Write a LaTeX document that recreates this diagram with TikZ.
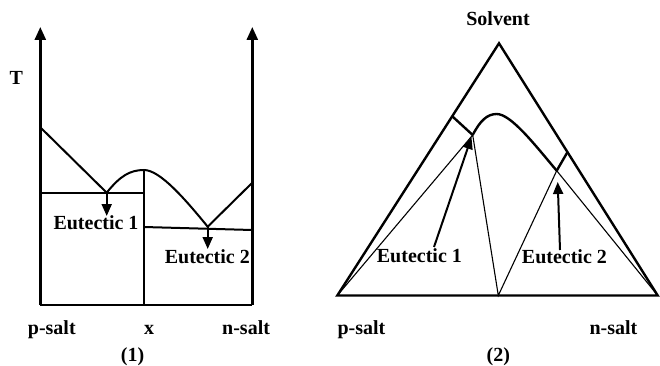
\documentclass[tikz,border=0pt]{standalone}
\usepackage{fontspec}
\setmainfont{Liberation Serif}
\usetikzlibrary{arrows.meta}
\begin{document}
\begin{tikzpicture}[x=1pt,y=-1pt,
  lbl/.style={font=\fontsize{20}{22}\selectfont\bfseries, inner sep=0pt},
  axis/.style={line width=2.6pt, -{Triangle[width=11pt,length=13pt]}},
  frame/.style={line width=2.4pt},
  thickc/.style={line width=2.4pt},
  thinl/.style={line width=1.1pt},
  mid/.style={line width=2pt},
  pointer/.style={line width=2pt, -{Triangle[width=10pt,length=12pt]}},
  every node/.style={lbl}]
\useasboundingbox (0,0) rectangle (660,366);
% ---------- diagram (1) ----------
\coordinate (O) at (40.3,305);
\coordinate (R) at (252.3,305);
\coordinate (Ltop) at (40.3,27);
\coordinate (Rtop) at (252.3,27);
\coordinate (M) at (144,305);
\coordinate (Mtop) at (144,170);
\coordinate (LS) at (40.3,127.3);
\coordinate (E1) at (106.7,192.7);
\coordinate (E2) at (207.7,226.7);
\coordinate (RS) at (252.3,182.7);
\coordinate (H1a) at (40.3,193.3);
\coordinate (H1b) at (144,193.3);
\coordinate (H2a) at (144,227);
\coordinate (H2b) at (252.3,230);
\coordinate (A1) at (106.7,216);
\coordinate (A2) at (207.7,249);
\draw[axis] (O) -- (Ltop);
\draw[axis] (R) -- (Rtop);
\draw[frame] (O) -- (R);
\draw[mid] (M) -- (Mtop);
\draw[mid] (H1a) -- (H1b);
\draw[mid] (H2a) -- (H2b);
\draw[mid] (LS) -- (E1) .. controls (120,176) and (130,170) .. (Mtop)
  .. controls (160,170) and (185,199) .. (E2) -- (RS);
\draw[pointer] (E1) -- (A1);
\draw[pointer] (E2) -- (A2);
\node[anchor=base west] (T) at (9.3,85) {T};
\node[anchor=base west] (eu1) at (53.3,229) {Eutectic 1};
\node[anchor=base east] (eu2) at (250,263.3) {Eutectic 2};
\node[anchor=base west] (ps1) at (27.7,334) {p-salt};
\node[anchor=base] (xx) at (149,334) {x};
\node[anchor=base west] (ns1) at (222,334) {n-salt};
\node[anchor=base] (c1) at (132.5,361) {(1)};
% ---------- diagram (2) ----------
\coordinate (P) at (337.3,295.5);
\coordinate (N) at (657.7,295.5);
\coordinate (S) at (499,43.3);
\coordinate (B) at (498.3,295.5);
\coordinate (F1) at (472.7,135);
\coordinate (F2) at (556.7,170.7);
\coordinate (T1) at (452.7,116.7);
\coordinate (T2) at (567.7,151.7);
\coordinate (Pk) at (496.7,114);
\draw[frame, line join=miter] (P) -- (S) -- (N) -- cycle;
\draw[thinl] (P) -- (F1) -- (B) -- (F2) -- (N);
\draw[thickc] (T1) -- (F1);
\draw[thickc] (T2) -- (F2);
\draw[thickc] (F1) .. controls (480,121) and (487,114) .. (Pk)
  .. controls (511,114) and (535,145) .. (F2);
\node[anchor=base west] (f1) at (376.7,262.7) {Eutectic 1};
\node[anchor=base west] (f2) at (521.7,263.3) {Eutectic 2};
\coordinate (F1t) at (471.5,137);
\coordinate (F2t) at (557.7,182);
\coordinate (F1s) at (434,247);
\coordinate (F2s) at (560,250);
\draw[pointer] (F1s) -- (F1t);
\draw[pointer] (F2s) -- (F2t);
\node[anchor=base] (sv) at (498,25.7) {Solvent};
\node[anchor=base west] (ps2) at (337.3,334) {p-salt};
\node[anchor=base west] (ns2) at (589.3,334) {n-salt};
\node[anchor=base] (c2) at (498.3,361) {(2)};
\end{tikzpicture}
\end{document}
